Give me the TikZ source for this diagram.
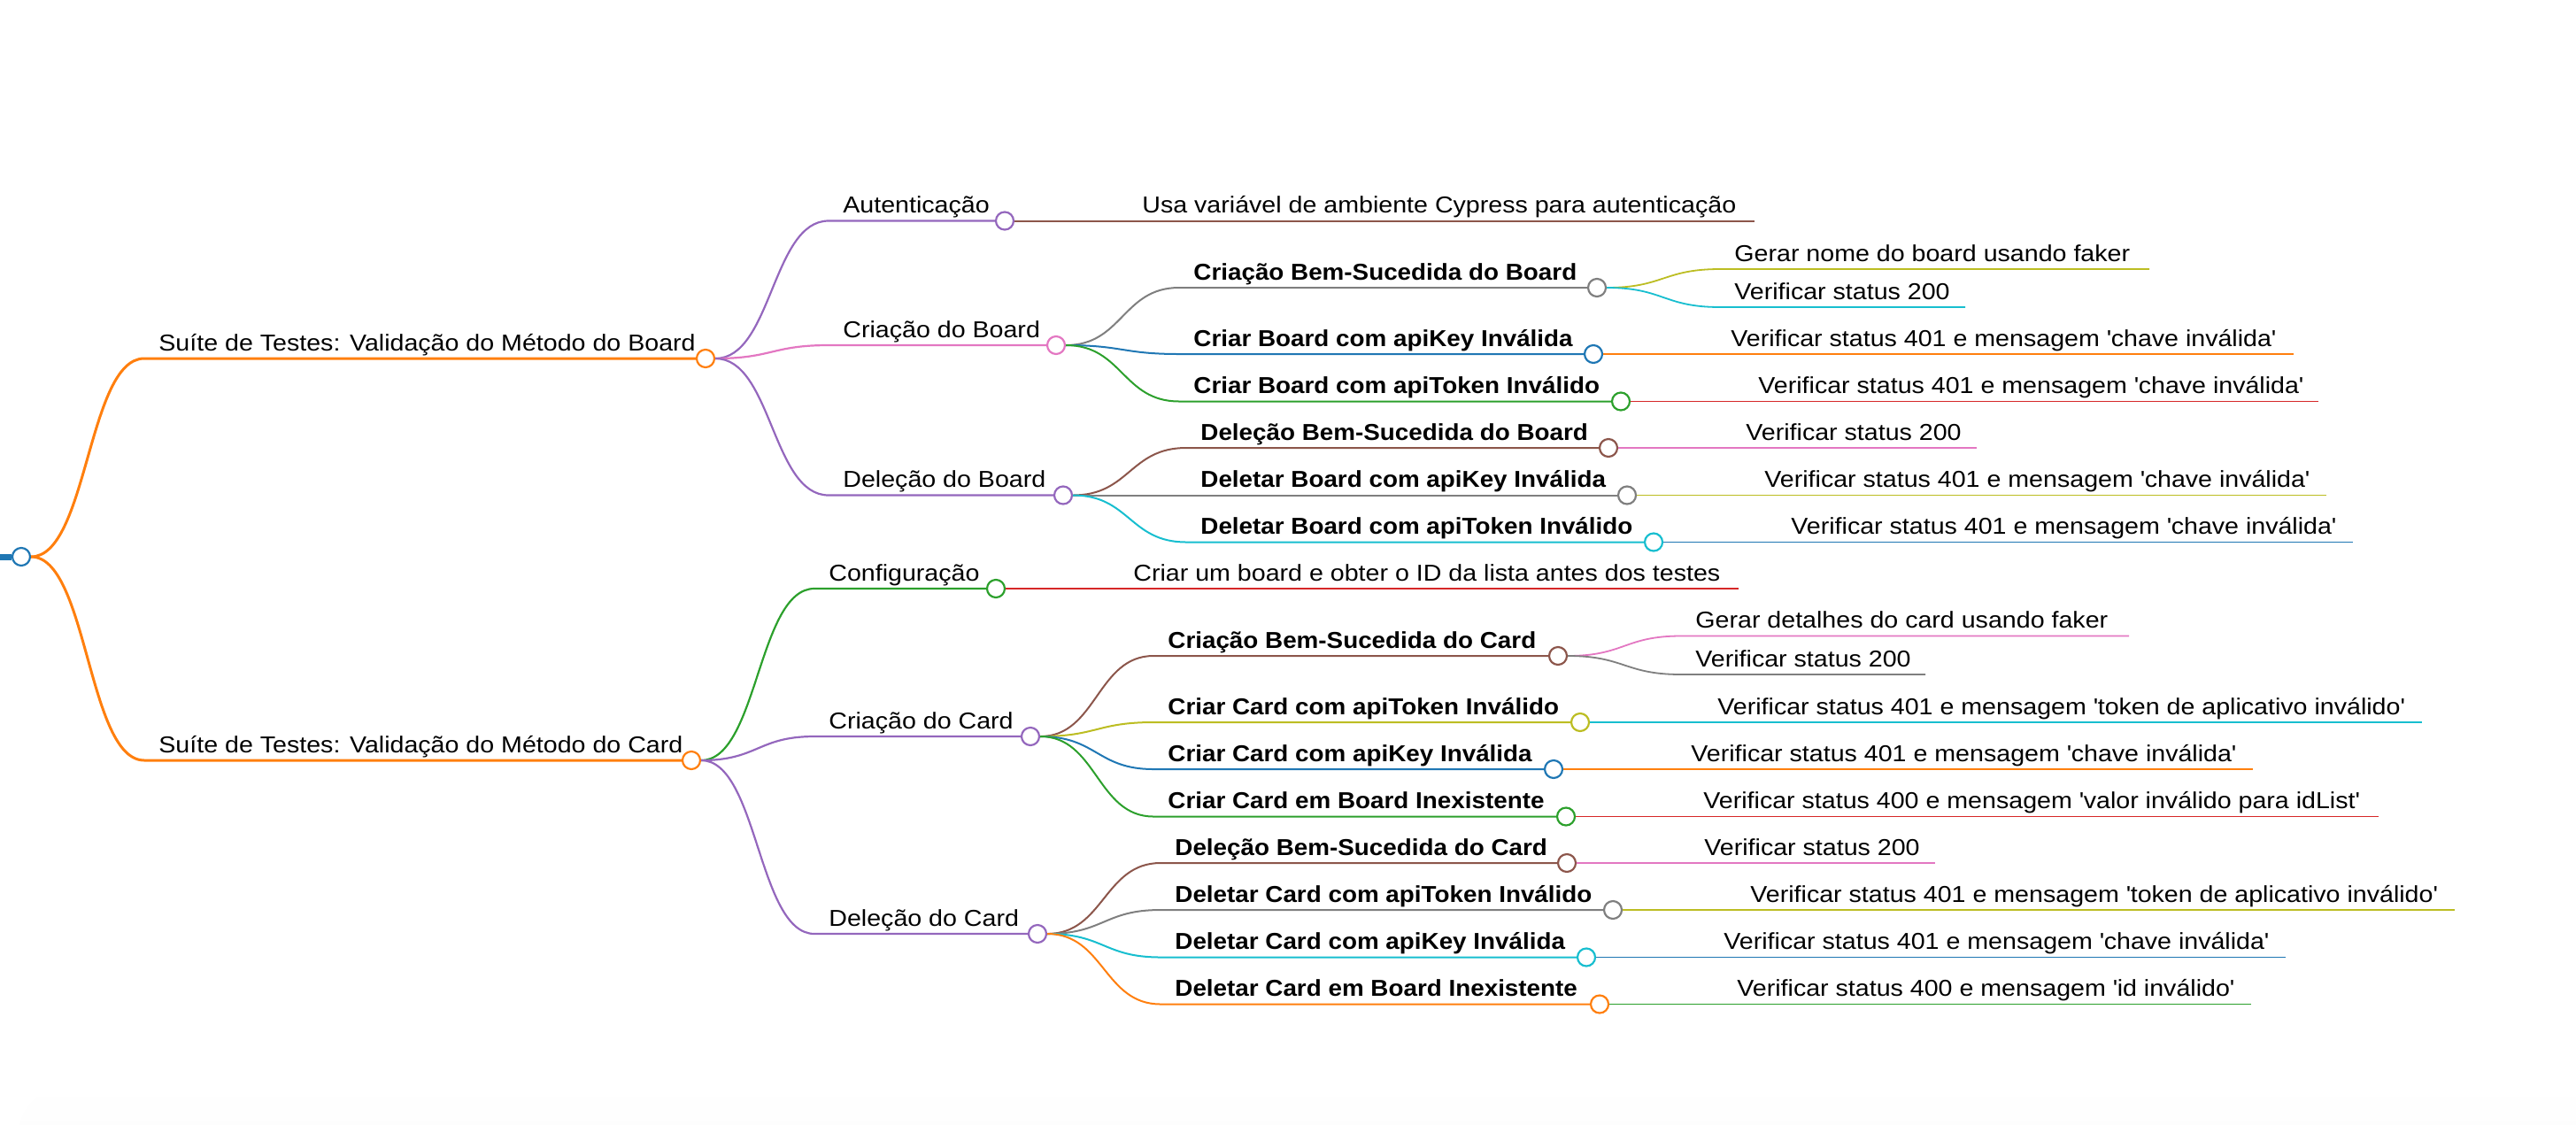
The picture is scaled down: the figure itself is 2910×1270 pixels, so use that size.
\documentclass[tikz,border=0pt]{standalone}
\usepackage{fontspec}
\setmainfont{Liberation Sans}[UprightFeatures={FakeStretch=1.1}, BoldFeatures={FakeStretch=1.07}]
\usetikzlibrary{calc}
\definecolor{cblue}{HTML}{1F77B4}
\definecolor{corange}{HTML}{FF7F0E}
\definecolor{cgreen}{HTML}{2CA02C}
\definecolor{cred}{HTML}{D62728}
\definecolor{cpurple}{HTML}{9467BD}
\definecolor{cbrown}{HTML}{8C564B}
\definecolor{cpink}{HTML}{E377C2}
\definecolor{cgray}{HTML}{7F7F7F}
\definecolor{colive}{HTML}{BCBD22}
\definecolor{ccyan}{HTML}{17BECF}
\newcommand\qs{\textquotesingle}
\tikzset{
  hl/.style={to path={let \p1=(\tikztostart), \p2=(\tikztotarget) in .. controls ({(\x1+\x2)/2},\y1) and ({(\x1+\x2)/2},\y2) .. (\tikztotarget)}},
  lbl/.style={anchor=base west, inner sep=0pt, font=\fontsize{13}{15}\selectfont},
  rg/.style={},
  bl/.style={font=\fontsize{13}{15}\selectfont\bfseries},
  dot/.style={circle, draw=#1, fill=white, minimum size=10pt, inner sep=0pt, line width=1.1pt},
}
% #1 name #2 parent #3 start x #4 y #5 circle x #6 colour #7 width #8 font style #9 text
\newcommand\mmNode[9]{%
  \coordinate (#1S) at (#3,#4);
  \node[lbl,#8] (#1T) at ([shift={(16,-9)}]#1S) {#9};
  \node[dot=#6] (#1) at (#5,#4) {};
  \draw[draw=#6, line width=#7] (#2.east) to[hl] (#1S) -- (#1.west);
}
% #1 name #2 parent #3 start x #4 y #5 end x #6 colour #7 width #8 text
\newcommand\mmLeaf[8]{%
  \coordinate (#1S) at (#3,#4);
  \node[lbl] (#1T) at ([shift={(16,-9)}]#1S) {#8};
  \coordinate (#1E) at (#5,#4);
  \draw[draw=#6, line width=#7] (#2.east) to[hl] (#1S) -- (#1E);
}
\begin{document}
\begin{tikzpicture}[x=0.5pt, y={(0pt,-0.5pt)}]
\useasboundingbox (0,0) rectangle (2910,1270);
\shade[top color=white, bottom color=black!1.5, rounded corners=30pt] (20,1225) rectangle (2990,1330);

% root
\coordinate (rootL) at (0,629);
\node[dot=cblue] (root) at (24,629) {};
\draw[cblue, line width=3.5pt] (rootL) -- (root.west);

% level 1
\mmNode{sb}{root}{163}{405}{797}{corange}{1.5pt}{rg}{Suíte de Testes: Validação do Método do Board}
\mmNode{sc}{root}{163}{859}{781}{corange}{1.5pt}{rg}{Suíte de Testes: Validação do Método do Card}

% level 2
\mmNode{au}{sb}{936}{249.5}{1135}{cpurple}{1.1pt}{rg}{Autenticação}
\mmNode{cb}{sb}{936}{390}{1193}{cpink}{1.1pt}{rg}{Criação do Board}
\mmNode{db}{sb}{936}{559.5}{1201}{cpurple}{1.1pt}{rg}{Deleção do Board}
\mmNode{cf}{sc}{920}{665}{1125}{cgreen}{1.1pt}{rg}{Configuração}
\mmNode{cc}{sc}{920}{832}{1164}{cpurple}{1.1pt}{rg}{Criação do Card}
\mmNode{dc}{sc}{920}{1055}{1172}{cpurple}{1.1pt}{rg}{Deleção do Card}

% Autenticação / Configuração
\mmLeaf{au1}{au}{1274}{249.5}{1982}{cbrown}{1pt}{Usa variável de ambiente Cypress para autenticação}
\mmLeaf{cf1}{cf}{1264}{665}{1964}{cred}{1pt}{Criar um board e obter o ID da lista antes dos testes}

% Criação do Board
\mmNode{cba}{cb}{1332}{325}{1804}{cgray}{1pt}{bl}{Criação Bem-Sucedida do Board}
\mmNode{cbb}{cb}{1332}{400}{1800}{cblue}{1pt}{bl}{Criar Board com apiKey Inválida}
\mmNode{cbc}{cb}{1332}{453.5}{1831}{cgreen}{1pt}{bl}{Criar Board com apiToken Inválido}
\mmLeaf{cbaa}{cba}{1943}{304}{2428}{colive}{0.9pt}{Gerar nome do board usando faker}
\mmLeaf{cbab}{cba}{1943}{347}{2220}{ccyan}{0.9pt}{Verificar status 200}
\mmLeaf{cbba}{cbb}{1939}{400}{2591}{corange}{0.9pt}{Verificar status 401 e mensagem \qs chave inválida\qs}
\mmLeaf{cbca}{cbc}{1970}{453.5}{2619}{cred}{0.9pt}{Verificar status 401 e mensagem \qs chave inválida\qs}

% Deleção do Board
\mmNode{dba}{db}{1340}{506}{1817}{cbrown}{1pt}{bl}{Deleção Bem-Sucedida do Board}
\mmNode{dbb}{db}{1340}{559.5}{1838}{cgray}{1pt}{bl}{Deletar Board com apiKey Inválida}
\mmNode{dbc}{db}{1340}{612.5}{1868}{ccyan}{1pt}{bl}{Deletar Board com apiToken Inválido}
\mmLeaf{dbaa}{dba}{1956}{506}{2233}{cpink}{0.9pt}{Verificar status 200}
\mmLeaf{dbba}{dbb}{1977}{559.5}{2628}{colive}{0.9pt}{Verificar status 401 e mensagem \qs chave inválida\qs}
\mmLeaf{dbca}{dbc}{2007}{612.5}{2658}{cblue}{0.9pt}{Verificar status 401 e mensagem \qs chave inválida\qs}

% Criação do Card
\mmNode{cca}{cc}{1303}{741}{1760}{cbrown}{1pt}{bl}{Criação Bem-Sucedida do Card}
\mmNode{ccb}{cc}{1303}{816}{1785}{colive}{1pt}{bl}{Criar Card com apiToken Inválido}
\mmNode{ccc}{cc}{1303}{869}{1755}{cblue}{1pt}{bl}{Criar Card com apiKey Inválida}
\mmNode{ccd}{cc}{1303}{922.5}{1769}{cgreen}{1pt}{bl}{Criar Card em Board Inexistente}
\mmLeaf{ccaa}{cca}{1899}{718.5}{2405}{cpink}{0.9pt}{Gerar detalhes do card usando faker}
\mmLeaf{ccab}{cca}{1899}{762}{2175}{cgray}{0.9pt}{Verificar status 200}
\mmLeaf{ccba}{ccb}{1924}{816}{2736}{ccyan}{0.9pt}{Verificar status 401 e mensagem \qs token de aplicativo inválido\qs}
\mmLeaf{ccca}{ccc}{1894}{869}{2545}{corange}{0.9pt}{Verificar status 401 e mensagem \qs chave inválida\qs}
\mmLeaf{ccda}{ccd}{1908}{922.5}{2687}{cred}{0.9pt}{Verificar status 400 e mensagem \qs valor inválido para idList\qs}

% Deleção do Card
\mmNode{dca}{dc}{1311}{975}{1770}{cbrown}{1pt}{bl}{Deleção Bem-Sucedida do Card}
\mmNode{dcb}{dc}{1311}{1028}{1822}{cgray}{1pt}{bl}{Deletar Card com apiToken Inválido}
\mmNode{dcc}{dc}{1311}{1081.5}{1792}{ccyan}{1pt}{bl}{Deletar Card com apiKey Inválida}
\mmNode{dcd}{dc}{1311}{1134.5}{1807}{corange}{1pt}{bl}{Deletar Card em Board Inexistente}
\mmLeaf{dcaa}{dca}{1909}{975}{2186}{cpink}{0.9pt}{Verificar status 200}
\mmLeaf{dcba}{dcb}{1961}{1028}{2773}{colive}{0.9pt}{Verificar status 401 e mensagem \qs token de aplicativo inválido\qs}
\mmLeaf{dcca}{dcc}{1931}{1081.5}{2582}{cblue}{0.9pt}{Verificar status 401 e mensagem \qs chave inválida\qs}
\mmLeaf{dcda}{dcd}{1946}{1134.5}{2543}{cgreen}{0.9pt}{Verificar status 400 e mensagem \qs id inválido\qs}
\end{tikzpicture}
\end{document}
